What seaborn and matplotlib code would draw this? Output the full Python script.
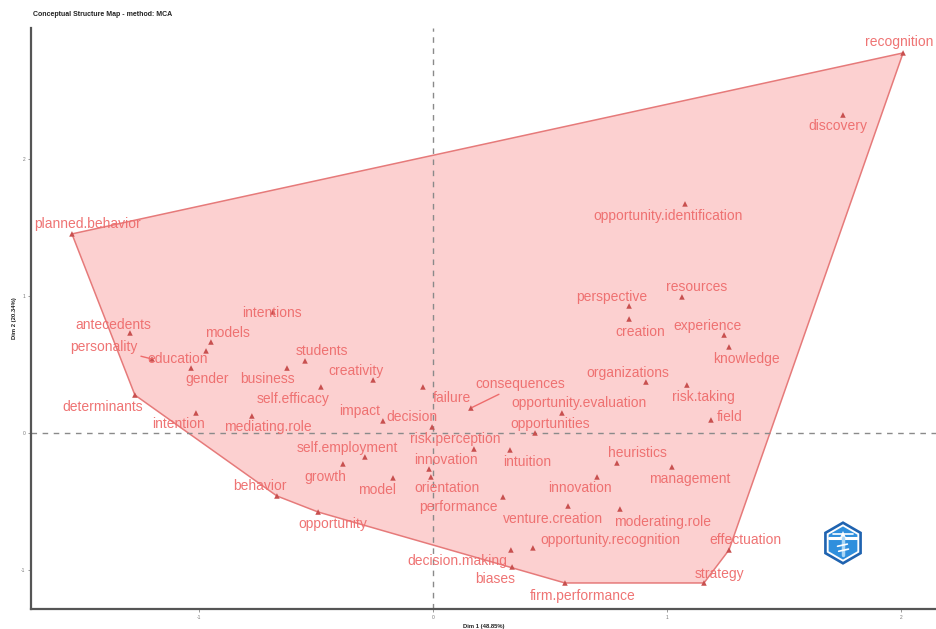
import numpy as np
import pandas as pd
import matplotlib
matplotlib.use("Agg")
import matplotlib.pyplot as plt
from matplotlib.patches import Polygon, RegularPolygon
import seaborn as sns

# ---- data: MCA coordinates of the terms -------------------------------------
terms = [
    "recognition", "discovery", "opportunity.identification", "planned.behavior",
    "resources", "perspective", "creation", "experience", "knowledge",
    "intentions", "antecedents", "models", "personality", "education", "gender",
    "students", "business", "creativity", "self.efficacy", "determinants",
    "intention", "mediating.role", "impact", "decision", "failure",
    "consequences", "risk.perception", "intuition", "innovation", "orientation",
    "self.employment", "growth", "model", "behavior", "opportunity",
    "performance", "organizations", "risk.taking", "opportunity.evaluation",
    "opportunities", "field", "heuristics", "management", "innovation",
    "venture.creation", "moderating.role", "opportunity.recognition",
    "decision.making", "biases", "firm.performance", "strategy", "effectuation",
]
dim1 = [
    2.009, 1.752, 1.077, -1.543,
    1.064, 0.838, 0.838, 1.244, 1.265,
    -0.684, -1.295, -0.949, -1.201, -0.970, -1.034,
    -0.547, -0.624, -0.256, -0.479, -1.274,
    -1.013, -0.774, -0.214, -0.004, -0.043,
    0.162, 0.175, 0.329, -0.017, -0.009,
    -0.291, -0.385, -0.171, -0.667, -0.491,
    0.299, 0.910, 1.085, 0.551,
    0.436, 1.188, 0.786, 1.021, 0.701,
    0.577, 0.799, 0.427,
    0.333, 0.338, 0.564, 1.158, 1.265,
]
dim2 = [
    2.774, 2.321, 1.672, 1.453,
    0.993, 0.927, 0.832, 0.715, 0.628,
    0.883, 0.730, 0.664, 0.540, 0.599, 0.474,
    0.526, 0.474, 0.387, 0.336, 0.277,
    0.146, 0.124, 0.088, 0.044, 0.336,
    0.182, -0.117, -0.124, -0.263, -0.321,
    -0.175, -0.226, -0.328, -0.460, -0.577,
    -0.467, 0.372, 0.350, 0.146,
    0.000, 0.095, -0.219, -0.248, -0.321,
    -0.533, -0.555, -0.839,
    -0.854, -0.978, -1.095, -1.095, -0.854,
]
x_ticks = [-1, 0, 1, 2]
y_ticks = [-1, 0, 1, 2]
x_label = "Dim 1 (48.85%)"
y_label = "Dim 2 (20.34%)"
title = "Conceptual Structure Map - method: MCA"

# label placement (pixel offsets from each point, repel-style layout)
label_dx = [-4, -5, -17, 16, 15, -17, 11, -17, 17, -1, -17, 17, -48, -28, 16,
            17, -19, -17, -28, -32, -17, 16, -23, -20, 29, 49, -19, 17, 17, 16,
            -18, -18, -16, -17, 15, -45, -18, 17, 17, 15, 19, 21, 18, -17,
            -15, 43, 77, -54, -17, 18, 16, 16]
label_dy = [11, -11, -12, 10, 10, 9, -13, 9, -12, -1, 8, 9, 12, -8, -11,
            10, -11, 9, -12, -12, -11, -11, 10, 10, -11, 24, 10, -12, 9, -11,
            9, -13, -12, 10, -12, -10, 9, -12, 10, 9, 3, 10, -12, -11,
            -13, -13, 8, -11, -12, -13, 9, 10]
leader_lines = {"personality", "consequences"}

df = pd.DataFrame({"term": terms, "dim1": dim1, "dim2": dim2})

# ---- style -------------------------------------------------------------------
sns.set_theme(style="white")
plt.rcParams["font.family"] = ["Liberation Sans", "DejaVu Sans"]

text_col = "#EE6C6C"
point_col = "#C8504F"
hull_fill = "#FCD0D0"
hull_edge = "#E67A7A"

fig = plt.figure(figsize=(9.37, 6.29), dpi=100)
fig.patch.set_facecolor("white")
ax = fig.add_axes([31 / 937, 20 / 629, 906 / 937, 581 / 629])
ax.set_facecolor("white")

# ---- convex hull of the cluster ------------------------------------------------
def convex_hull(xs, ys):
    pts = sorted(set(zip(xs, ys)))
    def cross(o, a, b):
        return (a[0] - o[0]) * (b[1] - o[1]) - (a[1] - o[1]) * (b[0] - o[0])
    lower, upper = [], []
    for p in pts:
        while len(lower) >= 2 and cross(lower[-2], lower[-1], p) <= 0:
            lower.pop()
        lower.append(p)
    for p in reversed(pts):
        while len(upper) >= 2 and cross(upper[-2], upper[-1], p) <= 0:
            upper.pop()
        upper.append(p)
    return lower[:-1] + upper[:-1]

hull = convex_hull(df["dim1"], df["dim2"])
ax.add_patch(Polygon(hull, closed=True, facecolor=hull_fill, edgecolor=hull_edge,
                     linewidth=1.1, zorder=1))

# reference lines through the origin
ax.axvline(0, color="#8a8a8a", lw=1.0, ls=(0, (4, 4)), zorder=2)
ax.axhline(0, color="#8a8a8a", lw=1.0, ls=(0, (4, 4)), zorder=2)

# ---- points ------------------------------------------------------------------
sns.scatterplot(data=df, x="dim1", y="dim2", marker="^", s=16, color=point_col,
                edgecolor="none", ax=ax, zorder=3, legend=False)

# ---- labels --------------------------------------------------------------------
for t, x, y, dx, dy in zip(df["term"], df["dim1"], df["dim2"], label_dx, label_dy):
    props = None
    if t in leader_lines:
        props = dict(arrowstyle="-", color=text_col, lw=1.0, shrinkA=0, shrinkB=1)
    ax.annotate(t, xy=(x, y), xytext=(dx, dy), textcoords="offset pixels",
                ha="center", va="center", fontsize=10, color=text_col,
                alpha=0.95, zorder=4, arrowprops=props, annotation_clip=False)

# ---- axes ----------------------------------------------------------------------
ax.set_xlim(-1.718, 2.154)
ax.set_ylim(-1.285, 2.956)
ax.set_xticks(x_ticks)
ax.set_yticks(y_ticks)
ax.set_xticklabels([str(v) for v in x_ticks], fontsize=3.5, color="#777777")
ax.set_yticklabels([str(v) for v in y_ticks], fontsize=3.5, color="#777777")
ax.tick_params(axis="both", length=2, width=0.6, color="#888888", pad=2,
               bottom=True, left=True)
ax.set_xlabel(x_label, fontsize=4.2, fontweight="bold", color="#222222", labelpad=3)
ax.set_ylabel(y_label, fontsize=4.2, fontweight="bold", color="#222222", labelpad=3)
for side in ("top", "right"):
    ax.spines[side].set_visible(False)
for side in ("left", "bottom"):
    ax.spines[side].set_color("#555555")
    ax.spines[side].set_linewidth(1.6)

fig.text(33 / 937, 1 - 14 / 629, title, fontsize=5, fontweight="bold",
         color="#222222", ha="left", va="center")

# ---- badge -------------------------------------------------------------------
logo = fig.add_axes([819 / 937, 62 / 629, 48 / 937, 48 / 629])
logo.set_xlim(-1.1, 1.1)
logo.set_ylim(-1.1, 1.1)
logo.set_aspect("equal")
logo.axis("off")
logo.add_patch(RegularPolygon((0, 0), 6, radius=1.0, orientation=0,
                              facecolor="#1F63B0", edgecolor="none"))
logo.add_patch(RegularPolygon((0, 0), 6, radius=0.86, orientation=0,
                              facecolor="white", edgecolor="none"))
logo.add_patch(RegularPolygon((0, 0), 6, radius=0.76, orientation=0,
                              facecolor="#2F8FDD", edgecolor="none"))
logo.plot([-0.62, 0.62], [0.22, 0.22], color="white", lw=2.2)
logo.plot([-0.45, 0.45], [0.40, 0.40], color="white", lw=1.2)
logo.add_patch(Polygon([(-0.12, 0.28), (0.12, 0.28), (0.0, 0.55)], closed=True,
                       facecolor="white", edgecolor="none"))
logo.plot([0.0, 0.0], [0.22, -0.55], color="#A9D6F5", lw=2.5)
logo.plot([-0.25, 0.2], [-0.15, -0.05], color="white", lw=1.2)
logo.plot([-0.2, 0.25], [-0.38, -0.28], color="white", lw=1.2)

fig.savefig("out.png", dpi=100, facecolor="white")
